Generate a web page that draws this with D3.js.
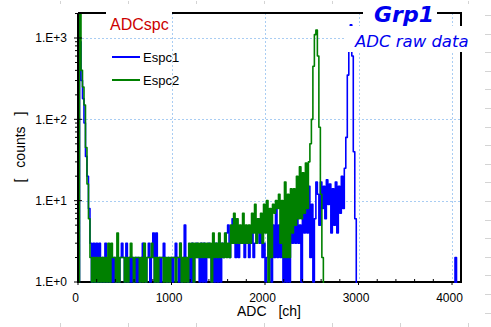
<!DOCTYPE html>
<html>
<head>
<meta charset="utf-8">
<script src="https://cdn.jsdelivr.net/npm/d3@7"></script>
<style>
body { margin: 0; background: #fff; }
svg { display: block; font-family: "Liberation Sans", Arial, sans-serif; }
</style>
</head>
<body>
<div id="main"></div>
<script>
// counts per 16-channel bin (0 = empty, drawn below the axis)
const binWidth = 16;

const espc1 = [
    0, 900, 300, 180, 90, 35, 20, 8, 3, 1, 3, 1, 3, 1, 3, 1,
    2, 1, 3, 1, 2, 1, 2, 1, 2, 1, 2, 1, 2, 3, 2, 1,
    3, 1, 2, 1, 2, 1, 2, 1, 2, 1, 2, 3, 2, 1, 2, 3,
    1, 2, 4, 1, 4, 1, 2, 1, 2, 3, 2, 1, 2, 1, 2, 1,
    2, 3, 2, 1, 3, 1, 2, 5, 2, 1, 2, 1, 3, 1, 2, 3,
    2, 1, 3, 1, 3, 1, 2, 3, 2, 1, 3, 1, 3, 1, 3, 1,
    3, 2, 3, 4, 5, 2, 3, 6, 3, 2, 4, 2, 3, 4, 3, 2,
    3, 4, 2, 3, 4, 2, 3, 5, 6, 3, 4, 2, 3, 1, 2, 4,
    3, 1, 5, 2, 8, 2, 5, 2, 4, 1, 3, 1, 4, 1, 4, 3,
    6, 3, 10, 3, 5, 1, 8, 4, 12, 4, 15, 2, 9, 1, 6, 17,
    12, 5, 17, 8, 15, 6, 18, 9, 16, 4, 14, 5, 17, 4, 15, 7,
    20, 8, 25, 60, 350, 1300, 1450, 600, 40, 6, 0, 0, 0, 0, 0, 0,
    0, 0, 0, 0, 0, 0, 0, 0, 0, 0, 0, 0, 0, 0, 0, 0,
    0, 0, 0, 0, 0, 0, 0, 0, 0, 0, 0, 0, 0, 0, 0, 0,
    0, 0, 0, 0, 0, 0, 0, 0, 0, 0, 0, 0, 0, 0, 0, 0,
    0, 0, 0, 0, 0, 0, 0, 0, 0, 0, 0, 0, 2, 0, 0, 0
];

const espc2 = [
    0, 2000, 400, 250, 150, 45, 16, 6, 2, 1, 2, 1, 2, 1, 2, 1,
    2, 1, 2, 1, 3, 1, 3, 2, 2, 1, 4, 1, 2, 2, 2, 1,
    2, 1, 2, 3, 2, 1, 2, 2, 2, 1, 2, 1, 3, 1, 2, 2,
    2, 3, 2, 1, 2, 1, 2, 2, 2, 1, 2, 1, 2, 1, 2, 2,
    2, 1, 2, 2, 3, 1, 2, 1, 2, 1, 3, 2, 3, 1, 3, 2,
    3, 2, 3, 2, 3, 2, 3, 2, 3, 1, 4, 2, 3, 2, 4, 2,
    3, 2, 4, 2, 3, 2, 5, 3, 7, 3, 6, 3, 5, 3, 7, 3,
    5, 3, 5, 3, 7, 4, 9, 3, 6, 4, 7, 3, 9, 4, 10, 1,
    8, 2, 9, 7, 10, 8, 12, 3, 10, 2, 17, 2, 12, 2, 14, 4,
    14, 5, 20, 6, 26, 6, 22, 7, 29, 8, 30, 50, 100, 450, 1100, 1250,
    600, 80, 12, 2, 0, 0, 0, 0, 0, 0, 0, 0, 0, 0, 0, 0,
    0, 0, 0, 0, 0, 0, 0, 0, 0, 0, 0, 0, 0, 0, 0, 0,
    0, 0, 0, 0, 0, 0, 0, 0, 0, 0, 0, 0, 0, 0, 0, 0,
    0, 0, 0, 0, 0, 0, 0, 0, 0, 0, 0, 0, 0, 0, 0, 0,
    0, 0, 0, 0, 0, 0, 0, 0, 0, 0, 0, 0, 0, 0, 0, 0,
    0, 0, 0, 0, 0, 0, 0, 0, 0, 0, 0, 0, 0, 0, 0, 0
];

const seriesNames = ['Espc1', 'Espc2'];
const seriesColors = ['#0000ff', '#008000'];
const yTicks = [1, 10, 100, 1000];
const yTickLabels = ['1.E+0', '1.E+1', '1.E+2', '1.E+3'];
const xTicks = [0, 1000, 2000, 3000, 4000];

let width = 383;
let height = 269;
let margin = { top: 13, left: 78 };

const svg = d3.select('#main').append('svg')
    .attr('width', 491)
    .attr('height', 327);

// faint sheet cell marks round the picture
const sheet = svg.append('g').attr('stroke', '#d4d4d4').attr('stroke-width', 1);
d3.range(60, 491, 68).forEach((cx) => {
    sheet.append('line').attr('x1', cx + 0.5).attr('x2', cx + 0.5).attr('y1', 1).attr('y2', 4);
    sheet.append('line').attr('x1', cx + 0.5).attr('x2', cx + 0.5).attr('y1', 323).attr('y2', 327);
});
d3.range(15, 327, 18.6).forEach((cy) => {
    sheet.append('line').attr('x1', 485).attr('x2', 491).attr('y1', Math.round(cy) + 0.5).attr('y2', Math.round(cy) + 0.5);
});

const x = d3.scaleLinear().domain([0, 4096]).range([0, width]);
const y = d3.scaleLog().domain([1, 2030]).range([height, 0]);

const chart = svg.append('g')
    .attr('transform', `translate(${margin.left}, ${margin.top})`);

svg.append('defs').append('clipPath').attr('id', 'plot')
    .append('rect').attr('x', 0).attr('y', 0).attr('width', width).attr('height', height + 1);

// dotted grid
const gridColor = '#a9cdf3';
chart.append('g').selectAll('line')
    .data(xTicks.slice(1))
    .enter()
    .append('line')
    .attr('x1', (d) => Math.round(x(d)) + 0.5)
    .attr('x2', (d) => Math.round(x(d)) + 0.5)
    .attr('y1', 0)
    .attr('y2', height)
    .attr('stroke', gridColor)
    .attr('stroke-dasharray', '2,2');
chart.append('g').selectAll('line')
    .data(yTicks.slice(1))
    .enter()
    .append('line')
    .attr('x1', 0)
    .attr('x2', width)
    .attr('y1', (d) => Math.round(y(d)) + 0.5)
    .attr('y2', (d) => Math.round(y(d)) + 0.5)
    .attr('stroke', gridColor)
    .attr('stroke-dasharray', '2,2');

// bottom axis line under the data
chart.append('line')
    .attr('x1', 0).attr('x2', width)
    .attr('y1', height).attr('y2', height)
    .attr('stroke', '#000').attr('stroke-width', 2);

const lineGenerator = d3.line()
    .curve(d3.curveStep)
    .x((d, i) => x(i * binWidth + binWidth / 2))
    .y((d) => d > 0 ? y(d) : height + 6);

chart.append('g')
    .attr('clip-path', 'url(#plot)')
    .selectAll('path')
    .data([espc1, espc2])
    .enter()
    .append('path')
    .attr('fill', 'none')
    .attr('stroke', (d, i) => seriesColors[i])
    .attr('stroke-width', 1.6)
    .attr('stroke-linejoin', 'round')
    .attr('d', (d) => lineGenerator(d));

// frame
chart.append('line').attr('x1', 0).attr('x2', 0).attr('y1', 0).attr('y2', height + 1)
    .attr('stroke', '#000').attr('stroke-width', 2);
chart.append('line').attr('x1', 0).attr('x2', width).attr('y1', 0).attr('y2', 0)
    .attr('stroke', '#000').attr('stroke-width', 2);
chart.append('line').attr('x1', width).attr('x2', width).attr('y1', -1).attr('y2', height + 1)
    .attr('stroke', '#000').attr('stroke-width', 2);

// y ticks, major and log minor
const yMinor = [];
[1, 10, 100, 1000].forEach((dec) => {
    d3.range(2, 10).forEach((m) => {
        if (dec * m < 2030) yMinor.push(dec * m);
    });
});
chart.append('g').selectAll('line')
    .data(yTicks)
    .enter()
    .append('line')
    .attr('x1', -4).attr('x2', 4)
    .attr('y1', (d) => y(d)).attr('y2', (d) => y(d))
    .attr('stroke', '#000');
chart.append('g').selectAll('line')
    .data(yMinor)
    .enter()
    .append('line')
    .attr('x1', -3).attr('x2', 1)
    .attr('y1', (d) => y(d)).attr('y2', (d) => y(d))
    .attr('stroke', '#000');

// x ticks
chart.append('g').selectAll('line')
    .data(xTicks)
    .enter()
    .append('line')
    .attr('x1', (d) => x(d)).attr('x2', (d) => x(d))
    .attr('y1', height).attr('y2', height + 3)
    .attr('stroke', '#000');
chart.append('g').selectAll('line')
    .data(d3.range(200, 4096, 200).filter((d) => d % 1000 !== 0))
    .enter()
    .append('line')
    .attr('x1', (d) => x(d)).attr('x2', (d) => x(d))
    .attr('y1', height - 3).attr('y2', height)
    .attr('stroke', '#000');

const yAxis = chart.append('g')
    .call(d3.axisLeft(y).tickValues(yTicks).tickFormat((d, i) => yTickLabels[i]).tickSize(0).tickPadding(11));
yAxis.select('.domain').remove();
yAxis.selectAll('text').style('font-size', '12px').attr('fill', '#000');

const xAxis = chart.append('g')
    .attr('transform', `translate(0, ${height})`)
    .call(d3.axisBottom(x).tickValues(xTicks).tickFormat(d3.format('d')).tickSize(0).tickPadding(11));
xAxis.select('.domain').remove();
xAxis.selectAll('text').style('font-size', '12px').attr('fill', '#000').attr('dx', -3);

// axis titles
svg.append('text')
    .attr('x', 269).attr('y', 316)
    .attr('text-anchor', 'middle')
    .attr('word-spacing', 8)
    .style('font-size', '14px')
    .text('ADC [ch]');
svg.append('text')
    .attr('transform', 'translate(25, 147) rotate(-90)')
    .attr('text-anchor', 'middle')
    .attr('word-spacing', 7)
    .style('font-size', '14px')
    .text('[ counts ]');

// legend
const legend = svg.append('g').attr('transform', 'translate(112, 57)');
const items = legend.selectAll('g')
    .data(seriesNames)
    .enter()
    .append('g')
    .attr('transform', (d, i) => `translate(0, ${i * 23})`);
items.append('line')
    .attr('x1', 0).attr('x2', 28)
    .attr('stroke', (d, i) => seriesColors[i])
    .attr('stroke-width', 2);
items.append('text')
    .attr('x', 31).attr('dy', '0.35em')
    .style('font-size', '13px')
    .text((d) => d);

// titles sitting on the frame
svg.append('rect').attr('x', 106).attr('y', 6).attr('width', 66).attr('height', 27).attr('fill', '#fff');
svg.append('text')
    .attr('x', 110).attr('y', 29.5)
    .attr('fill', '#cc0000')
    .style('font-size', '16px')
    .text('ADCspc');

svg.append('rect').attr('x', 363).attr('y', 0).attr('width', 74).attr('height', 26).attr('fill', '#fff');
svg.append('text')
    .attr('x', 374).attr('y', 21.5)
    .attr('fill', '#0000ee')
    .style('font-family', '"DejaVu Sans", sans-serif')
    .style('font-weight', 'bold')
    .style('font-style', 'italic')
    .style('font-size', '22px')
    .text('Grp1');

svg.append('rect').attr('x', 346).attr('y', 26).attr('width', 138).attr('height', 26).attr('fill', '#fff');
svg.append('text')
    .attr('x', 355).attr('y', 46.5)
    .attr('fill', '#0000ee')
    .style('font-family', '"DejaVu Sans", sans-serif')
    .style('font-style', 'italic')
    .style('font-size', '16.5px')
    .text('ADC raw data');
</script>
</body>
</html>
